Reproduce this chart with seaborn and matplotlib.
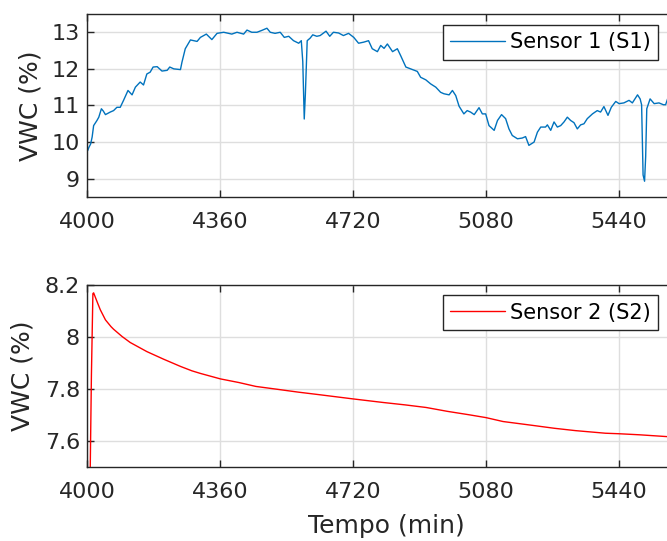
import matplotlib
matplotlib.use("Agg")
import numpy as np
import pandas as pd
import matplotlib.pyplot as plt
import seaborn as sns
from matplotlib.ticker import FuncFormatter

# ---------------- data ----------------
minutes_s1 = [4000, 4002, 4005, 4010, 4014, 4018, 4027, 4032, 4039, 4044, 4050, 4063, 4072,
              4081, 4090, 4099, 4111, 4122, 4131, 4144, 4153, 4162, 4171, 4179, 4190, 4203,
              4217, 4224, 4235, 4253, 4257, 4266, 4280, 4298, 4307, 4323, 4338, 4352, 4370,
              4392, 4406, 4424, 4433, 4446, 4460, 4473, 4487, 4496, 4509, 4523, 4534, 4546,
              4559, 4573, 4580, 4584, 4588, 4591, 4596, 4604, 4611, 4622, 4631, 4647, 4657,
              4667, 4681, 4694, 4708, 4722, 4735, 4749, 4762, 4772, 4786, 4795, 4804, 4813,
              4827, 4840, 4849, 4863, 4881, 4894, 4903, 4917, 4930, 4944, 4957, 4966, 4980,
              4989, 4998, 5007, 5020, 5029, 5038, 5048, 5061, 5070, 5079, 5088, 5102, 5111,
              5122, 5133, 5142, 5151, 5165, 5178, 5187, 5196, 5210, 5219, 5228, 5241, 5246,
              5255, 5264, 5273, 5282, 5291, 5300, 5309, 5318, 5327, 5336, 5345, 5354, 5368,
              5381, 5390, 5399, 5410, 5419, 5431, 5440, 5453, 5467, 5476, 5490, 5497, 5501,
              5505, 5509, 5512, 5515, 5524, 5535, 5548, 5560, 5566, 5572, 5580]
vwc_s1 = [9.75, 9.77, 9.85, 9.95, 10.14, 10.45, 10.59, 10.68, 10.91, 10.85, 10.75, 10.82, 10.86,
          10.95, 10.95, 11.14, 11.41, 11.29, 11.50, 11.64, 11.56, 11.86, 11.91, 12.05, 12.06, 11.94,
          11.96, 12.05, 12.00, 11.98, 12.18, 12.55, 12.79, 12.75, 12.86, 12.95, 12.80, 12.97, 13.00,
          12.95, 13.00, 12.95, 13.06, 13.00, 13.00, 13.05, 13.11, 13.00, 12.97, 13.00, 12.86, 12.89,
          12.77, 12.70, 12.77, 12.20, 10.63, 11.30, 12.77, 12.84, 12.93, 12.89, 12.91, 13.03, 12.89,
          13.00, 12.98, 12.91, 12.97, 12.86, 12.70, 12.73, 12.77, 12.55, 12.47, 12.64, 12.56, 12.68,
          12.47, 12.55, 12.36, 12.05, 11.98, 11.93, 11.77, 11.70, 11.59, 11.50, 11.36, 11.32, 11.29,
          11.41, 11.27, 10.98, 10.77, 10.86, 10.82, 10.75, 10.94, 10.77, 10.77, 10.45, 10.32, 10.59,
          10.75, 10.64, 10.36, 10.18, 10.09, 10.11, 10.15, 9.91, 10.00, 10.27, 10.41, 10.41, 10.47,
          10.32, 10.55, 10.41, 10.45, 10.55, 10.68, 10.59, 10.53, 10.36, 10.47, 10.50, 10.64, 10.77,
          10.86, 10.82, 10.97, 10.73, 10.95, 11.11, 11.05, 11.07, 11.14, 11.07, 11.29, 11.18, 11.02,
          9.10, 8.93, 9.60, 10.91, 11.18, 11.05, 11.07, 11.02, 11.02, 11.20, 11.22]

minutes_s2 = [4000, 4008, 4012, 4016, 4018, 4027, 4036, 4050, 4065, 4072, 4095, 4117, 4162,
              4207, 4253, 4284, 4307, 4361, 4411, 4457, 4515, 4572, 4630, 4720, 4803, 4861,
              4918, 4976, 5034, 5080, 5126, 5207, 5265, 5322, 5403, 5440, 5495, 5580]
vwc_s2 = [7.00, 7.40, 7.85, 8.165, 8.168, 8.135, 8.103, 8.064, 8.038, 8.028, 8.000, 7.977, 7.942,
          7.913, 7.885, 7.868, 7.858, 7.837, 7.823, 7.808, 7.797, 7.786, 7.776, 7.760, 7.746, 7.737,
          7.727, 7.712, 7.699, 7.688, 7.673, 7.658, 7.647, 7.638, 7.628, 7.626, 7.622, 7.614]

label_s1 = "Sensor 1 (S1)"
label_s2 = "Sensor 2 (S2)"
x_ticks = [4000, 4360, 4720, 5080, 5440]
yticks_s1 = [9, 10, 11, 12, 13]
yticks_s2 = [7.6, 7.8, 8.0, 8.2]
ylabel = "VWC (%)"
xlabel = "Tempo (min)"

# ---------------- style ----------------
sns.set_theme(style="white")
plt.rcParams['font.family'] = ['DejaVu Sans']
INK = "#262626"

fig = plt.figure(figsize=(6.67, 5.41), dpi=100)
ax1 = fig.add_axes([0.1304, 0.6359, 0.898, 0.3383])
ax2 = fig.add_axes([0.1304, 0.1377, 0.898, 0.3364])

df1 = pd.DataFrame({"Tempo": minutes_s1, "VWC": vwc_s1})
df2 = pd.DataFrame({"Tempo": minutes_s2, "VWC": vwc_s2})
sns.lineplot(data=df1, x="Tempo", y="VWC", ax=ax1, color="#0072BD", lw=1.0, label=label_s1)
sns.lineplot(data=df2, x="Tempo", y="VWC", ax=ax2, color="#FF0000", lw=1.0, label=label_s2)


def style(ax, ylim, yticks, label_x):
    ax.set_xlim(4000, 5621)
    ax.set_ylim(*ylim)
    ax.set_xticks(x_ticks)
    ax.set_yticks(yticks)
    ax.yaxis.set_major_formatter(FuncFormatter(lambda v, p: f"{v:g}"))
    ax.grid(True, color="#dedede", lw=1.0)
    ax.set_axisbelow(True)
    for s in ax.spines.values():
        s.set_visible(True)
        s.set_color(INK)
        s.set_linewidth(1.0)
    ax.tick_params(direction="in", length=5, width=1, colors=INK, labelsize=16,
                   top=True, right=True, bottom=True, left=True)
    ax.tick_params(axis="x", pad=11)
    ax.tick_params(axis="y", pad=5)
    ax.set_xlabel("")
    ax.set_ylabel(ylabel, fontsize=18, color=INK)
    ax.yaxis.set_label_coords(label_x, 0.5)
    leg = ax.legend(loc="upper right", bbox_to_anchor=(0.953, 0.94), borderaxespad=0,
                    fontsize=15, frameon=True, fancybox=False, handlelength=2.6,
                    handletextpad=0.25, borderpad=0.35, labelcolor="black")
    fr = leg.get_frame()
    fr.set_edgecolor(INK)
    fr.set_linewidth(1.0)
    fr.set_alpha(1.0)


style(ax1, (8.5, 13.5), yticks_s1, -0.075)
style(ax2, (7.5, 8.2), yticks_s2, -0.087)
ax2.set_xlabel(xlabel, fontsize=18, color=INK)
ax2.xaxis.set_label_coords(0.5, -0.262)

fig.savefig("out.png", dpi=100)
